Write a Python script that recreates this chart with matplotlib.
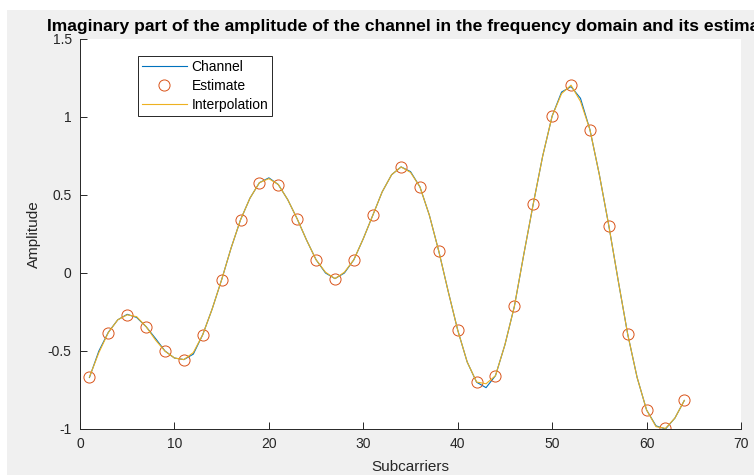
import numpy as np
import matplotlib
matplotlib.use("Agg")
import matplotlib.pyplot as plt
from matplotlib.patches import Rectangle

plt.rcParams['font.family'] = ['Liberation Sans', 'DejaVu Sans']

# Subcarrier index and channel response (imaginary part)
subcarriers = list(range(1, 65))
channel = [-0.67, -0.50, -0.38, -0.30, -0.265, -0.285, -0.344, -0.42, -0.50, -0.545,
           -0.555, -0.52, -0.395, -0.23, -0.043, 0.16, 0.341, 0.48, 0.579, 0.61,
           0.567, 0.47, 0.347, 0.21, 0.085, 0.00, -0.036, 0.00, 0.085, 0.22,
           0.369, 0.52, 0.63, 0.68, 0.65, 0.552, 0.37, 0.139, -0.12, -0.366,
           -0.57, -0.70, -0.735, -0.658, -0.46, -0.214, 0.12, 0.443, 0.75, 1.006,
           1.16, 1.195, 1.12, 0.919, 0.63, 0.304, -0.05, -0.392, -0.67, -0.878,
           -0.98, -1.0, -0.93, -0.817]
interpolation = [-0.667, -0.51, -0.382, -0.30, -0.268, -0.28, -0.344, -0.43, -0.501, -0.545,
                 -0.555, -0.51, -0.395, -0.23, -0.043, 0.16, 0.341, 0.48, 0.579, 0.605,
                 0.567, 0.47, 0.347, 0.21, 0.085, 0.005, -0.036, 0.005, 0.085, 0.22,
                 0.369, 0.52, 0.63, 0.68, 0.645, 0.552, 0.37, 0.139, -0.12, -0.366,
                 -0.57, -0.699, -0.71, -0.658, -0.46, -0.214, 0.12, 0.443, 0.75, 1.006,
                 1.15, 1.204, 1.10, 0.919, 0.63, 0.304, -0.05, -0.392, -0.67, -0.878,
                 -0.985, -0.996, -0.93, -0.817]

# Pilot positions and least-squares estimates
pilots = [1, 3, 5, 7, 9, 11, 13, 15, 17, 19, 21, 23, 25, 27, 29, 31,
          34, 36, 38, 40, 42, 44, 46, 48, 50, 52, 54, 56, 58, 60, 62, 64]
estimate = [-0.667, -0.382, -0.271, -0.344, -0.501, -0.555, -0.395, -0.043,
            0.341, 0.579, 0.567, 0.347, 0.085, -0.036, 0.085, 0.369,
            0.680, 0.552, 0.139, -0.366, -0.699, -0.658, -0.214, 0.443,
            1.006, 1.204, 0.919, 0.304, -0.392, -0.878, -0.996, -0.817]

x_ticks = [0, 10, 20, 30, 40, 50, 60, 70]
y_ticks = [-1, -0.5, 0, 0.5, 1, 1.5]
y_tick_labels = ['-1', '-0.5', '0', '0.5', '1', '1.5']

fig = plt.figure(figsize=(7.54, 4.75), dpi=100)
fig.patch.set_facecolor('#f0f0f0')
# thin white margin along the top and left edges
fig.patches.append(Rectangle((0, 1 - 10 / 475), 1, 10 / 475, transform=fig.transFigure,
                             facecolor='white', edgecolor='none', zorder=-10))
fig.patches.append(Rectangle((0, 0), 7 / 754, 1, transform=fig.transFigure,
                             facecolor='white', edgecolor='none', zorder=-10))

ax = fig.add_axes([80 / 754, 1 - 429 / 475, 661 / 754, 390 / 475])
ax.set_facecolor('white')

ax.plot(subcarriers, channel, color='#0072BD', lw=0.8, label='Channel')
ax.plot(pilots, estimate, 'o', mfc='none', mec='#D95319', ms=8, mew=0.7, label='Estimate')
ax.plot(subcarriers, interpolation, color='#EDB120', lw=0.8, label='Interpolation')

ax.set_xlim(0, 70)
ax.set_ylim(-1, 1.5)
ax.set_xticks(x_ticks)
ax.set_yticks(y_ticks)
ax.set_yticklabels(y_tick_labels)

for side in ['top', 'right']:
    ax.spines[side].set_visible(False)
for side in ['left', 'bottom']:
    ax.spines[side].set_color('#262626')
    ax.spines[side].set_linewidth(0.7)
ax.tick_params(direction='in', length=5, width=0.7, colors='#262626',
               labelsize=10, pad=6)

ax.set_xlabel('Subcarriers', fontsize=11, color='#262626', labelpad=6)
ax.set_ylabel('Amplitude', fontsize=11, color='#262626', labelpad=5)
ax.set_title('Imaginary part of the amplitude of the channel in the frequency domain and its estimate',
             fontsize=12.6, fontweight='bold', pad=6)

leg = ax.legend(loc='upper left', bbox_to_anchor=(0.0877, 0.957), borderaxespad=0,
                fontsize=10, frameon=True, fancybox=False, framealpha=1,
                edgecolor='#262626', handlelength=3.2, handletextpad=0.35,
                labelspacing=0.36, borderpad=0.3)
leg.get_frame().set_linewidth(0.7)

fig.savefig('out.png', dpi=100, facecolor=fig.get_facecolor())
